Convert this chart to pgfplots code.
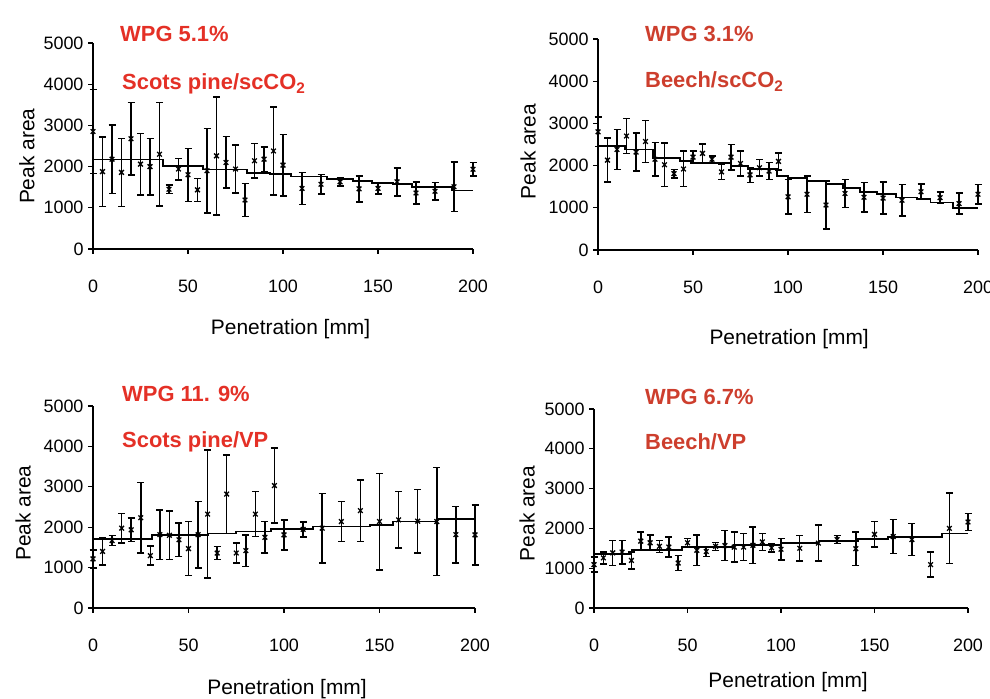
\documentclass[border=0pt]{standalone}
\usepackage{fontspec}
\setmainfont{Liberation Sans}
\usepackage{pgfplots}
\pgfplotsset{compat=1.18}
\usepackage{pgfplotstable}

\definecolor{titlered}{RGB}{228,48,38}
\definecolor{titlered2}{RGB}{205,62,45}

\pgfplotstableread{
x y e
0 2850 1020
5 1878 846
10 2180 830
15 1860 826
20 2675 880
25 2060 745
30 2000 685
35 2300 1260
40 1450 100
45 1940 260
50 1800 645
55 1435 280
60 1900 1030
65 2260 1430
70 2100 625
75 1940 585
80 1190 400
85 2140 420
90 2180 300
95 2380 1070
100 2035 745
110 1470 385
120 1570 240
130 1630 100
140 1460 315
150 1470 140
160 1630 340
170 1360 270
180 1400 215
190 1510 605
200 1935 160
}\dataA

\pgfplotstableread{
x y e
0 2800 350
5 2130 520
10 2380 470
15 2700 410
20 2320 450
25 2570 500
30 2150 400
35 2020 520
40 1810 100
45 1920 420
50 2200 140
55 2290 220
60 2150 80
65 1850 180
70 2200 300
75 2050 300
80 1780 180
85 1950 200
90 1870 200
95 2100 200
100 1260 410
110 1320 430
120 1065 570
130 1340 335
140 1250 345
150 1230 380
160 1180 375
170 1380 180
180 1240 130
190 1100 250
200 1320 235
}\dataB

\pgfplotstableread{
x y e
0 1215 225
5 1400 330
10 1670 125
15 1975 370
20 1935 290
25 2235 875
30 1295 235
35 1815 610
40 1800 600
45 1690 410
50 1470 670
55 1815 820
60 2325 1585
65 1360 165
70 2820 970
75 1360 245
80 1420 390
85 2325 555
90 1750 390
95 3030 930
100 1810 370
110 1945 185
120 1975 865
130 2140 495
140 2410 760
150 2140 1195
160 2180 700
170 2150 785
180 2140 1340
190 1815 700
200 1810 740
}\dataC

\pgfplotstableread{
x y e
0 1090 190
5 1260 150
10 1385 315
15 1405 295
20 1195 210
25 1680 230
30 1640 190
35 1550 150
40 1530 250
45 1130 190
50 1640 100
55 1450 380
60 1420 120
65 1550 100
70 1570 380
75 1530 380
80 1530 340
85 1575 460
90 1660 210
95 1510 105
100 1475 265
110 1500 320
120 1630 450
130 1720 105
140 1490 420
150 1850 320
160 1795 430
170 1720 400
180 1090 315
190 2000 885
200 2160 210
}\dataD

\pgfplotsset{
  panel/.style={
    scale only axis, anchor=south west,
    xmin=0, xmax=200, ymin=0, ymax=5000,
    axis x line=bottom, axis y line=left,
    axis line style={-, line width=1.4bp, black},
    xtick={0,50,100,150,200}, ytick={0,1000,2000,3000,4000,5000},
    tick align=outside, major tick length=5bp,
    tick style={line width=1.3bp, black},
    /pgf/number format/assume math mode=true,
    /pgf/number format/1000 sep={},
    ticklabel style={font=\fontsize{18}{18}\selectfont},
    xticklabel style={yshift=-22bp},
    yticklabel style={xshift=-1bp},
    label style={font=\fontsize{21}{21}\selectfont},
    clip=false,
  },
  pts/.style={black, only marks, mark=x, mark size=3.3bp,
    mark options={line width=1.3bp},
    error bars/.cd, y dir=both, y explicit,
    error bar style={line width=1.5bp, black},
    error mark options={rotate=90, mark size=3.5bp, line width=1.5bp, black}},
  trend/.style={black, line width=1.8bp, const plot, no marks},
}

\begin{document}
\begin{tikzpicture}[x=1bp,y=1bp]
\useasboundingbox (0,0) rectangle (990,699);

% Panel 1
\begin{axis}[panel, at={(93bp,450bp)}, width=380bp, height=206bp,
  xlabel={Penetration [mm]}, ylabel={Peak area},
  xlabel style={at={(axis description cs:0.52,-0.39)}, anchor=center},
  ylabel style={at={(axis description cs:-0.174,0.45)}, anchor=center}]
\addplot[pts] table[x=x, y=y, y error=e]{\dataA};
\addplot[trend] coordinates {(0,2170) (37,2010) (58,1930) (81,1845) (93,1820) (104,1760) (123,1700) (137,1655) (147,1600) (158,1575) (168,1500) (189,1420) (200,1420)};
\end{axis}

% Panel 2
\begin{axis}[panel, at={(598bp,449bp)}, width=380bp, height=211bp,
  xlabel={Penetration [mm]}, ylabel={Peak area},
  xlabel style={at={(axis description cs:0.503,-0.42)}, anchor=center},
  ylabel style={at={(axis description cs:-0.184,0.467)}, anchor=center}]
\addplot[pts] table[x=x, y=y, y error=e]{\dataB};
\addplot[trend] coordinates {(0,2460) (14,2380) (29,2185) (43,2106) (49,2067) (70,1990) (79,1910) (94,1750) (100,1714) (110,1635) (120,1557) (129,1478) (138,1375) (147,1320) (157,1243) (168,1203) (175,1125) (187,990) (200,990)};
\end{axis}

% Panel 3
\begin{axis}[panel, at={(93bp,91bp)}, width=382bp, height=202bp,
  xlabel={Penetration [mm]}, ylabel={Peak area},
  xlabel style={at={(axis description cs:0.508,-0.40)}, anchor=center},
  ylabel style={at={(axis description cs:-0.183,0.47)}, anchor=center}]
\addplot[pts] table[x=x, y=y, y error=e]{\dataC};
\addplot[trend] coordinates {(0,1710) (31,1815) (60,1845) (75,1895) (93,1955) (115,2015) (145,2060) (157,2140) (180,2195) (200,2195)};
\end{axis}

% Panel 4
\begin{axis}[panel, at={(594bp,91bp)}, width=374bp, height=199bp,
  xlabel={Penetration [mm]}, ylabel={Peak area},
  xlabel style={at={(axis description cs:0.519,-0.37)}, anchor=center},
  ylabel style={at={(axis description cs:-0.179,0.475)}, anchor=center}]
\addplot[pts] table[x=x, y=y, y error=e]{\dataD};
\addplot[trend] coordinates {(0,1365) (20,1450) (47,1530) (75,1590) (100,1633) (120,1685) (141,1740) (157,1785) (186,1870) (200,1870)};
\end{axis}

% Titles
\begin{scope}[every node/.style={anchor=base west, inner sep=0pt, font=\fontsize{22}{22}\selectfont\bfseries}]
\node[text=titlered] at (120,657) {WPG 5.1\%};
\node[text=titlered] at (122,609) {Scots pine/scCO\textsubscript{2}};
\node[text=titlered2] at (645,657) {WPG 3.1\%};
\node[text=titlered2] at (645,611) {Beech/scCO\textsubscript{2}};
\node[text=titlered] at (122,297) {WPG 11. 9\%};
\node[text=titlered] at (122,251) {Scots pine/VP};
\node[text=titlered2] at (645,294) {WPG 6.7\%};
\node[text=titlered2] at (645,249) {Beech/VP};
\end{scope}
\end{tikzpicture}
\end{document}
